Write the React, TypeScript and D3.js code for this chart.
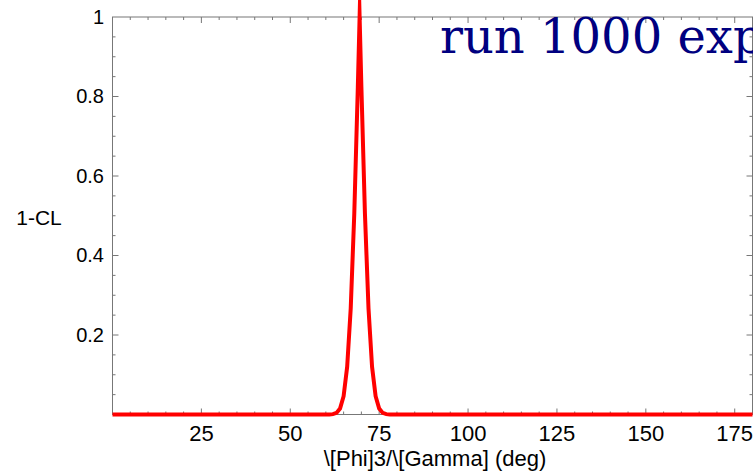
import React, { useEffect, useRef } from "react";
import * as d3 from "d3";

// scan values
const phiDeg = [0, 55, 61, 62, 63, 64, 65, 66, 67, 68, 69, 69.5, 70, 71, 72, 73, 74, 75, 76, 77, 78, 85, 180];
const oneMinusCL = [0, 0, 0.0002, 0.0009, 0.004, 0.015, 0.046, 0.12, 0.267, 0.505, 0.824, 1, 0.824, 0.505, 0.267, 0.12, 0.046, 0.015, 0.004, 0.0009, 0.0002, 0, 0];

const xTicks = [25, 50, 75, 100, 125, 150, 175];
const yTicks = [0.2, 0.4, 0.6, 0.8, 1];

const App = () => {
    const svgRef = useRef<SVGSVGElement>(null);

    useEffect(() => {
        const svg = d3.select(svgRef.current);
        svg.selectAll("*").remove();

        const width = 753, height = 475;
        const frame = { left: 112.5, top: 17, right: 752.5, bottom: 414.5 };
        const axisColor = "#777";
        const sans = "Liberation Sans, Arial, sans-serif";

        const x = d3.scaleLinear().domain([0, 180]).range([frame.left, frame.right]);
        const y = d3.scaleLinear().domain([0, 1]).range([frame.bottom, frame.top]);

        svg.append("rect")
            .attr("width", width).attr("height", height).attr("fill", "white");

        // frame
        svg.append("rect")
            .attr("x", frame.left).attr("y", frame.top)
            .attr("width", frame.right - frame.left)
            .attr("height", frame.bottom - frame.top)
            .attr("fill", "none").attr("stroke", axisColor).attr("stroke-width", 1);

        const minorX = d3.range(5, 180, 5);
        const minorY = d3.range(0.05, 1, 0.05);

        // ticks on all four sides, pointing inwards
        const ticks = svg.append("g").attr("stroke", axisColor).attr("stroke-width", 1);
        minorX.forEach(v => {
            const len = v % 25 === 0 ? 6 : 3;
            ticks.append("line").attr("x1", x(v)).attr("x2", x(v))
                .attr("y1", frame.bottom).attr("y2", frame.bottom - len);
            ticks.append("line").attr("x1", x(v)).attr("x2", x(v))
                .attr("y1", frame.top).attr("y2", frame.top + len);
        });
        minorY.forEach(v => {
            const len = Math.abs(v * 5 - Math.round(v * 5)) < 1e-6 ? 6 : 3;
            ticks.append("line").attr("y1", y(v)).attr("y2", y(v))
                .attr("x1", frame.left).attr("x2", frame.left + len);
            ticks.append("line").attr("y1", y(v)).attr("y2", y(v))
                .attr("x1", frame.right).attr("x2", frame.right - len);
        });

        svg.selectAll(".xlab")
            .data(xTicks)
            .enter()
            .append("text")
            .attr("x", d => x(d))
            .attr("y", 441)
            .attr("text-anchor", "middle")
            .attr("font-family", sans)
            .attr("font-size", 22)
            .text(d => d);

        svg.selectAll(".ylab")
            .data(yTicks)
            .enter()
            .append("text")
            .attr("x", 104)
            .attr("y", d => y(d) + 6.5)
            .attr("text-anchor", "end")
            .attr("font-family", sans)
            .attr("font-size", 20)
            .text(d => d);

        svg.append("text")
            .attr("x", 435).attr("y", 466)
            .attr("text-anchor", "middle")
            .attr("font-family", sans)
            .attr("font-size", 22)
            .text("\\[Phi]3/\\[Gamma] (deg)");

        svg.append("text")
            .attr("x", 39).attr("y", 225)
            .attr("text-anchor", "middle")
            .attr("font-family", sans)
            .attr("font-size", 21)
            .text("1-CL");

        // the scan curve
        const pts: [number, number][] = phiDeg.map((p, i) => [p, oneMinusCL[i]]);
        svg.append("path")
            .datum(pts)
            .attr("d", d3.line<[number, number]>().x(d => x(d[0])).y(d => y(d[1])))
            .attr("fill", "none")
            .attr("stroke", "#ff0000")
            .attr("stroke-width", 4)
            .attr("stroke-linejoin", "miter")
            .attr("stroke-miterlimit", 100);

        // title runs past the right edge, as in the original
        svg.append("text")
            .attr("x", 440).attr("y", 53)
            .attr("font-family", "DejaVu Serif, serif")
            .attr("font-size", 48)
            .attr("fill", "#000080")
            .text("run 1000 exp");
    }, []);

    return (
        <>
            <style>{"body{margin:0;overflow:hidden}"}</style>
            <svg ref={svgRef} width={753} height={475} style={{ display: "block" }}></svg>
        </>
    );
};

export default App;
